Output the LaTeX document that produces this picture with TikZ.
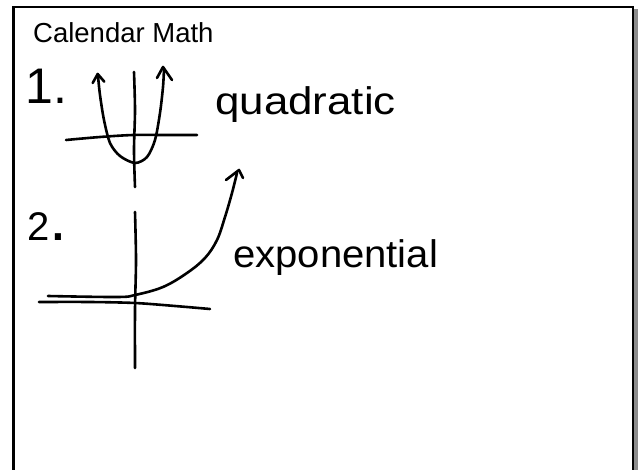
\documentclass[tikz,border=0pt]{standalone}
\usepackage{fontspec}
\setmainfont{Liberation Sans}
\begin{document}
\begin{tikzpicture}[x=1pt,y=-1pt,
  pen/.style={line width=2.6pt,line cap=round,line join=round},
  hand/.style={inner sep=0pt,anchor=base west,font=\fontsize{38.5}{40}\selectfont},
  frameline/.style={line width=2.2pt}]
\useasboundingbox (0,0) rectangle (640,470);
\fill[white] (0,0) rectangle (640,470);
% frame
\fill[black!45] (634,9) rectangle (637.5,470);
\draw[frameline] (13.5,472) -- (13.5,7) -- (633,7) -- (633,472);
% title
\node[inner sep=0pt,anchor=base west,font=\fontsize{27.5}{29}\selectfont] (title) at (33,43) {Calendar Math};
% item 1
\node[inner sep=0pt,anchor=base west,font=\fontsize{50}{52}\selectfont] (one) at (25,104) {1.};
\draw[pen] plot[smooth] coordinates {(66,140) (100,137) (133,135) (165,135) (197,135)};
\draw[pen] plot[smooth] coordinates {(134,72) (135,110) (134,150) (135,187)};
\draw[pen] plot[smooth] coordinates {(98,76) (100,95) (104,120) (110,143) (120,156) (135,163) (147,157) (155,140) (160,113) (163,87) (164,69)};
\draw[pen] (92.7,83) -- (97.7,74) -- (104.3,81.7);
\draw[pen] (157,78) -- (163,67) -- (172,80);
\node[hand,xscale=1.14] (quad) at (215,115) {quadratic};
% item 2
\node[inner sep=0pt,anchor=base west,font=\fontsize{40}{42}\selectfont] (two) at (27,241) {2{\fontsize{64}{64}\selectfont.}};
\draw[pen] plot[smooth] coordinates {(39,302) (90,302) (135,303) (175,306) (210,309)};
\draw[pen] plot[smooth] coordinates {(135,212) (136,260) (135,310) (135,368)};
\draw[pen] plot[smooth,tension=0.6] coordinates {(48,296) (117,297) (135,295) (163,287) (187,273) (205,258) (217,240) (225,217) (232,193) (237,173)};
\draw[pen] (226,180) -- (239,170) -- (243,178);
\node[hand,xscale=1.04] (expo) at (233,268) {exponential};
\end{tikzpicture}
\end{document}
